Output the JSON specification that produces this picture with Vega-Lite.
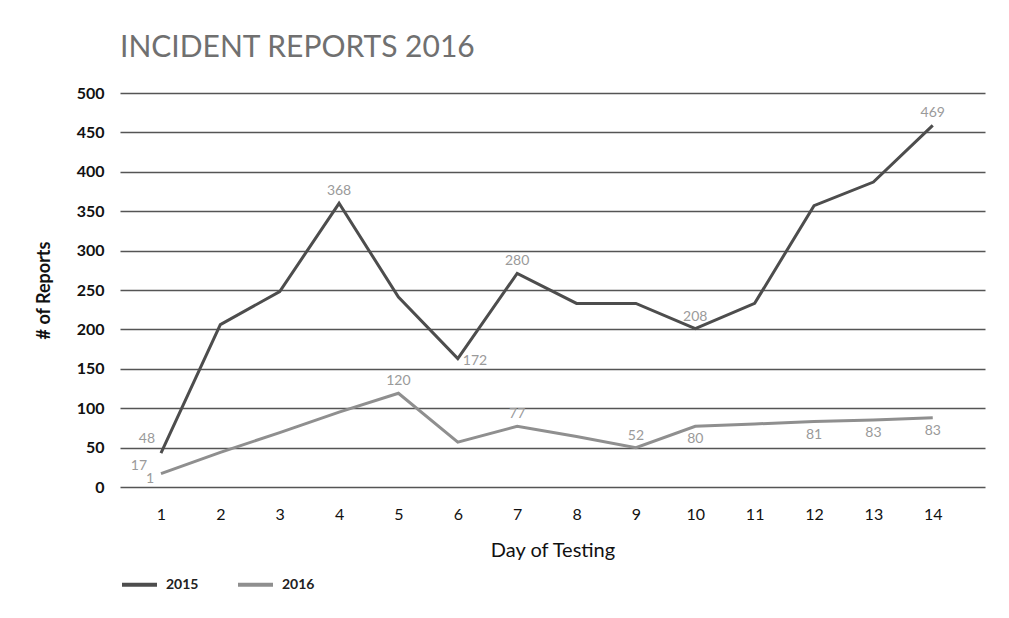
{
  "$schema": "https://vega.github.io/schema/vega-lite/v6.json",
  "width": 865,
  "height": 394,
  "autosize": {"type": "none"},
  "padding": {"left": 120, "top": 93, "right": 24, "bottom": 131},
  "background": "white",
  "config": {"view": {"stroke": null}, "font": "Lato"},
  "title": {"text": "INCIDENT REPORTS 2016", "anchor": "start", "frame": "group", "fontSize": 30, "fontWeight": "normal", "color": "#707070", "font": "Lato", "offset": 22},
  "datasets": {
    "series": [
      {"day": 1, "year": "2015", "reports": 43},
      {"day": 2, "year": "2015", "reports": 206},
      {"day": 3, "year": "2015", "reports": 248},
      {"day": 4, "year": "2015", "reports": 360},
      {"day": 5, "year": "2015", "reports": 241},
      {"day": 6, "year": "2015", "reports": 163},
      {"day": 7, "year": "2015", "reports": 271},
      {"day": 8, "year": "2015", "reports": 233},
      {"day": 9, "year": "2015", "reports": 233},
      {"day": 10, "year": "2015", "reports": 201},
      {"day": 11, "year": "2015", "reports": 233},
      {"day": 12, "year": "2015", "reports": 357},
      {"day": 13, "year": "2015", "reports": 387},
      {"day": 14, "year": "2015", "reports": 459},
      {"day": 1, "year": "2016", "reports": 17},
      {"day": 2, "year": "2016", "reports": 44},
      {"day": 3, "year": "2016", "reports": 69},
      {"day": 4, "year": "2016", "reports": 95},
      {"day": 5, "year": "2016", "reports": 119},
      {"day": 6, "year": "2016", "reports": 57},
      {"day": 7, "year": "2016", "reports": 77},
      {"day": 8, "year": "2016", "reports": 64},
      {"day": 9, "year": "2016", "reports": 50},
      {"day": 10, "year": "2016", "reports": 77},
      {"day": 11, "year": "2016", "reports": 80},
      {"day": 12, "year": "2016", "reports": 83},
      {"day": 13, "year": "2016", "reports": 85},
      {"day": 14, "year": "2016", "reports": 88}
    ],
    "labels": [
      {"day": 1, "reports": 43, "label": "48", "pos": "upleft"},
      {"day": 4, "reports": 360, "label": "368", "pos": "above"},
      {"day": 6, "reports": 163, "label": "172", "pos": "right"},
      {"day": 7, "reports": 271, "label": "280", "pos": "above"},
      {"day": 10, "reports": 201, "label": "208", "pos": "above"},
      {"day": 14, "reports": 459, "label": "469", "pos": "above"},
      {"day": 1, "reports": 17, "label": "17", "pos": "left"},
      {"day": 1, "reports": 17, "label": "1", "pos": "downleft"},
      {"day": 5, "reports": 119, "label": "120", "pos": "above"},
      {"day": 7, "reports": 77, "label": "77", "pos": "above"},
      {"day": 9, "reports": 50, "label": "52", "pos": "above"},
      {"day": 10, "reports": 77, "label": "80", "pos": "below"},
      {"day": 12, "reports": 83, "label": "81", "pos": "below"},
      {"day": 13, "reports": 85, "label": "83", "pos": "below"},
      {"day": 14, "reports": 88, "label": "83", "pos": "below"}
    ]
  },
  "encoding": {
    "x": {
      "field": "day", "type": "quantitative",
      "scale": {"domain": [0.31, 14.88], "nice": false, "zero": false},
      "axis": {
        "values": [1, 2, 3, 4, 5, 6, 7, 8, 9, 10, 11, 12, 13, 14],
        "format": "d",
        "grid": false, "domain": false, "ticks": false,
        "labelPadding": 19, "labelFontSize": 16, "labelColor": "#111111", "labelFlush": false,
        "title": "Day of Testing", "titleFontSize": 20, "titleFontWeight": "normal", "titleColor": "#111111",
        "titleX": 432.5, "titleY": 69, "titleBaseline": "alphabetic", "titleAlign": "center"
      }
    },
    "y": {
      "field": "reports", "type": "quantitative",
      "scale": {"domain": [0, 500], "nice": false},
      "axis": {
        "values": [0, 50, 100, 150, 200, 250, 300, 350, 400, 450, 500],
        "grid": true, "gridColor": "#555555", "gridWidth": 1.6, "gridOpacity": 1,
        "domain": false, "ticks": false,
        "labelPadding": 16, "labelFontSize": 16, "labelFontWeight": "bold", "labelColor": "#111111",
        "title": "# of Reports", "titleFontSize": 18, "titleFontWeight": "bold", "titleColor": "#111111",
        "titleAngle": -90, "titleX": -76, "titleY": 197, "titleAlign": "center", "titleBaseline": "middle"
      }
    }
  },
  "layer": [
    {
      "data": {"name": "series"},
      "mark": {"type": "line", "strokeWidth": 3, "strokeJoin": "miter"},
      "encoding": {
        "color": {
          "field": "year", "type": "nominal",
          "scale": {"domain": ["2015", "2016"], "range": ["#4d4d4d", "#8f8f8f"]},
          "legend": {
            "orient": "none", "direction": "horizontal", "legendX": 0, "legendY": 472,
            "title": null, "symbolType": "stroke", "symbolSize": 1225, "symbolStrokeWidth": 4,
            "labelFontSize": 14, "labelFontWeight": "bold", "labelColor": "#222222",
            "labelOffset": 7, "columnPadding": 31
          }
        }
      }
    },
    {
      "data": {"name": "labels"},
      "transform": [{"filter": "datum.pos === 'above'"}],
      "mark": {"type": "text", "fontSize": 14, "color": "#9a9a9a", "baseline": "middle", "align": "center", "dy": -12},
      "encoding": {"text": {"field": "label"}}
    },
    {
      "data": {"name": "labels"},
      "transform": [{"filter": "datum.pos === 'below'"}],
      "mark": {"type": "text", "fontSize": 14, "color": "#9a9a9a", "baseline": "middle", "align": "center", "dy": 13},
      "encoding": {"text": {"field": "label"}}
    },
    {
      "data": {"name": "labels"},
      "transform": [{"filter": "datum.pos === 'right'"}],
      "mark": {"type": "text", "fontSize": 14, "color": "#9a9a9a", "baseline": "middle", "align": "left", "dx": 5, "dy": 2},
      "encoding": {"text": {"field": "label"}}
    },
    {
      "data": {"name": "labels"},
      "transform": [{"filter": "datum.pos === 'upleft'"}],
      "mark": {"type": "text", "fontSize": 14, "color": "#9a9a9a", "baseline": "middle", "align": "center", "dx": -14, "dy": -14},
      "encoding": {"text": {"field": "label"}}
    },
    {
      "data": {"name": "labels"},
      "transform": [{"filter": "datum.pos === 'left'"}],
      "mark": {"type": "text", "fontSize": 14, "color": "#9a9a9a", "baseline": "middle", "align": "center", "dx": -22, "dy": -8},
      "encoding": {"text": {"field": "label"}}
    },
    {
      "data": {"name": "labels"},
      "transform": [{"filter": "datum.pos === 'downleft'"}],
      "mark": {"type": "text", "fontSize": 14, "color": "#9a9a9a", "baseline": "middle", "align": "center", "dx": -11, "dy": 5},
      "encoding": {"text": {"field": "label"}}
    }
  ]
}
